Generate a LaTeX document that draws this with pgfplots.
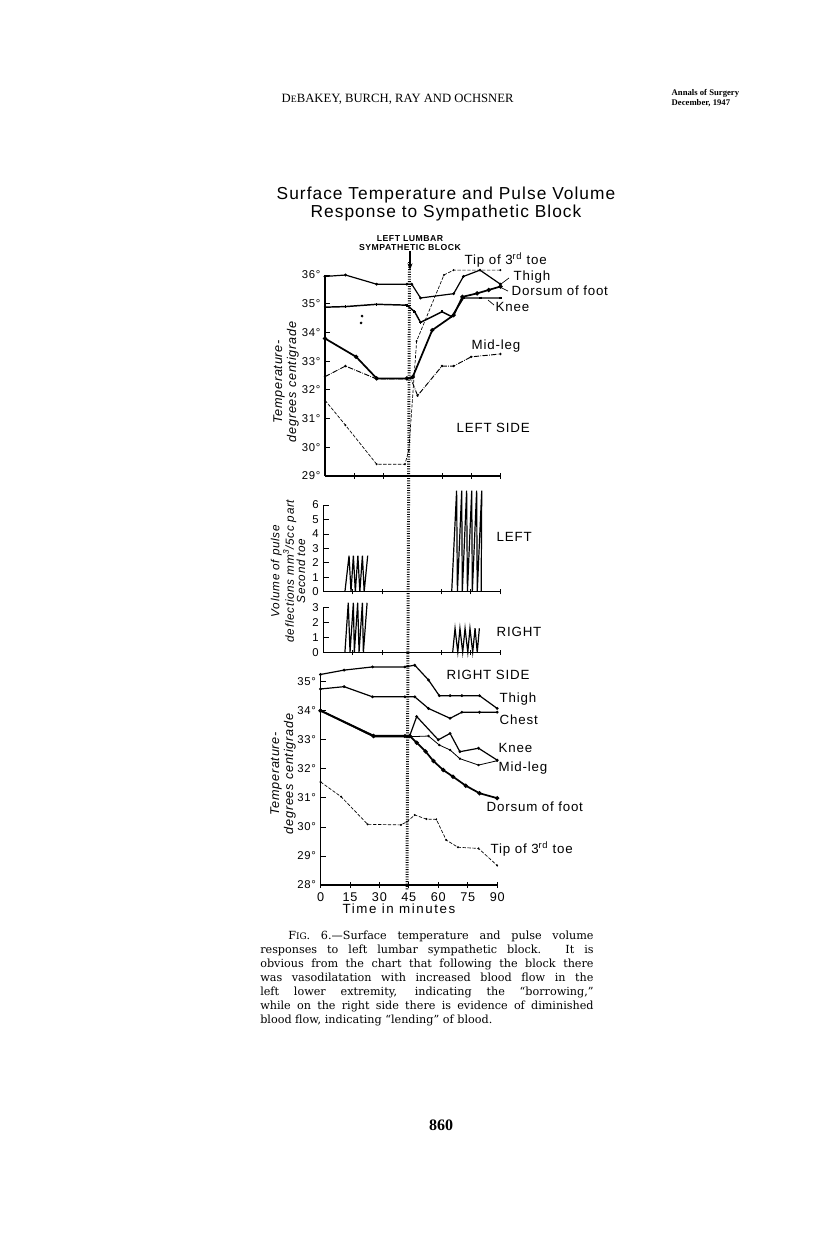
\documentclass[border=0pt]{standalone}
\usepackage{fontspec}
\setmainfont{Liberation Serif}
\newfontfamily\capfont{DejaVu Serif}[Ligatures=TeX]
\newfontfamily\hand{Liberation Sans}[LetterSpace=6]
\newfontfamily\handw{Liberation Sans}[LetterSpace=12]
\usepackage{pgfplots}
\pgfplotsset{compat=1.18}
\usetikzlibrary{arrows.meta}

\pgfplotsset{
  panel/.style={scale only axis, axis lines=left, axis line style={-, line width=0.8pt},
    clip=false, xmin=0, xmax=90, tick style={black, line width=0.6pt},
    major tick length=4pt, tick label style={font=\hand\fontsize{8.5}{9}\selectfont},
    xtick align=center, ytick align=inside},
  thigh/.style={black, line width=0.9pt, mark=*, mark size=0.55pt},
  toe/.style={black, line width=0.5pt, dash pattern=on 2.5pt off 1.2pt, mark=*, mark size=0.5pt},
  knee/.style={black, line width=1.1pt, mark=+, mark size=1.1pt},
  dorsum/.style={black, line width=1.3pt, mark=*, mark size=0.85pt},
  midleg/.style={black, line width=0.7pt, dash pattern=on 4pt off 1pt on 0.5pt off 1pt, mark=*, mark size=0.5pt},
  pulse/.style={black, line width=0.9pt},
}

\begin{document}
\begin{tikzpicture}[x=0.75pt,y=-0.75pt]
\path[use as bounding box, fill=white] (0,0) rectangle (816,1240);

% page header
\node[anchor=base west, font=\fontsize{9.5}{11}\selectfont] at (277,102)
  {D{\fontsize{7.3}{8}\selectfont E}BAKEY, BURCH, RAY AND OCHSNER};
\node[anchor=west, font=\bfseries\fontsize{6.5}{7.5}\selectfont, align=left] at (667,98)
  {Annals of Surgery\\December, 1947};

% chart title
\node[font=\hand\fontsize{13}{13.5}\selectfont, align=center] at (446,204)
  {Surface Temperature and Pulse Volume\\Response to Sympathetic Block};
\node[font=\hand\bfseries\fontsize{6.5}{6.5}\selectfont, align=center] at (410,243)
  {LEFT LUMBAR\\SYMPATHETIC BLOCK};
\draw[-{Stealth[length=5pt]}, line width=0.8pt] (410,251) -- (410,270);

% y labels
\node[rotate=90, font=\hand\itshape\fontsize{9.5}{10.5}\selectfont, align=center] at (286,382)
  {Temperature-\\degrees centigrade};
\node[rotate=90, font=\hand\itshape\fontsize{8.8}{8.4}\selectfont, align=center] at (288,571)
  {Volume of pulse\\deflections mm\textsuperscript{3}/5cc part\\Second toe};
\node[rotate=90, font=\hand\itshape\fontsize{9.5}{10.5}\selectfont, align=center] at (283,774)
  {Temperature-\\degrees centigrade};

% ---- left side temperatures
\begin{axis}[panel, at={(243.75pt,-357pt)}, anchor=south west,
  width=131.6pt, height=150.75pt, ymin=29, ymax=36,
  xtick={15,30,60,75,90}, xticklabels=\empty,
  ytick={29,...,36}, yticklabels={29°,30°,31°,32°,33°,34°,35°,36°}]
\addplot[thigh] coordinates {(0,35.95) (10.5,36.0) (26.5,35.68) (42,35.68) (44.5,35.68) (49,35.2) (66,35.35) (71,35.95) (79.5,36.17) (90,35.68)};
\addplot[toe] coordinates {(0,31.64) (10.5,30.77) (26.5,29.41) (41,29.41) (43,29.9) (47,33.7) (61,36.0) (66,36.17) (90,36.17)};
\addplot[knee] coordinates {(0,34.88) (10.5,34.9) (26.5,34.98) (42,34.95) (46,34.72) (49,34.35) (60,34.72) (65,34.55) (71,35.2) (80,35.2) (90,35.2)};
\addplot[dorsum] coordinates {(0,33.79) (16,33.15) (26.5,32.4) (42,32.4) (45,32.45) (55,34.08) (66,34.6) (70.5,35.24) (78,35.36) (84,35.48) (90,35.6)};
\addplot[midleg] coordinates {(0,32.46) (10.5,32.83) (26.5,32.38) (42,32.38) (44,32.4) (47.5,31.8) (60,32.83) (66,32.83) (75,33.15) (90,33.25)};
\addplot[only marks, mark=*, mark size=0.8pt] coordinates {(19,34.57) (18.5,34.33)};
\end{axis}

% ---- pulse volume, left
\begin{axis}[panel, at={(242.5pt,-443.8pt)}, anchor=south west,
  width=132.5pt, height=65pt, ymin=0, ymax=6,
  xtick={15,30,60,75,90}, xticklabels=\empty,
  ytick={0,...,6}, yticklabels={0,1,2,3,4,5,6}]
\addplot[pulse] coordinates {(11,0) (13.1,2.5) (14.1,0) (15.3,2.5) (16.3,0) (17.6,2.5) (18.6,0) (19.9,2.5) (20.8,0) (22.6,2.5)};
\addplot[pulse] coordinates {(65.4,0) (67.9,7) (68.3,0) (70.5,7) (70.8,0) (73,7) (73.4,0) (75.6,7) (75.9,0) (78.1,7) (78.4,0) (80.7,7) (80.4,0)};
\end{axis}

% ---- pulse volume, right
\begin{axis}[panel, at={(242.5pt,-489.2pt)}, anchor=south west,
  width=132.5pt, height=33.75pt, ymin=0, ymax=3,
  xtick={15,30,60,75,90}, xticklabels=\empty,
  ytick={0,...,3}, yticklabels={0,1,2,3}]
\addplot[pulse] coordinates {(11,0) (12.7,3.3) (13.6,0) (15.3,3.3) (15.8,0) (17.5,3.3) (18.2,0) (19.9,3.3) (20.4,0) (22.3,3.3)};
\addplot[pulse] coordinates {(65.9,0) (67.1,1.6) (68.5,0) (69.6,1.6) (71,0) (72.2,1.6) (73.6,0) (74.7,1.6) (76.1,0) (77.3,1.6) (78.4,0) (79.5,1.6)};
\end{axis}

% ---- right side temperatures
\begin{axis}[panel, at={(240.4pt,-663.75pt)}, anchor=south west,
  width=132.5pt, height=159pt, ymin=28, ymax=35.3,
  xtick={0,15,...,90}, xticklabels={0,15,30,45,60,75,90},
  xticklabel style={font=\hand\fontsize{9.5}{10}\selectfont},
  ytick={28,...,35}, yticklabels={28°,29°,30°,31°,32°,33°,34°,35°}]
\addplot[thigh] coordinates {(0,35.25) (12,35.4) (26.5,35.51) (43,35.51) (48,35.57) (55,35.06) (60.5,34.52) (66,34.52) (72,34.52) (81,34.52) (90,34.08)};
\addplot[thigh] coordinates {(0,34.75) (12,34.83) (26.5,34.48) (43,34.48) (48,34.48) (55,34.08) (66,33.74) (72,33.95) (81,33.95) (90,33.95)};
\addplot[thigh] coordinates {(0,34.02) (27,33.15) (43,33.15) (45.5,33.15) (49,33.8) (60,33.0) (66,33.22) (71,32.59) (80.5,32.71) (90,32.3)};
\addplot[thigh, line width=0.6pt] coordinates {(0,34.0) (27,33.1) (43,33.1) (55,33.13) (60.5,32.82) (66,32.65) (71,32.35) (80.5,32.13) (90,32.28)};
\addplot[dorsum] coordinates {(0,34.0) (27,33.13) (45.5,33.13) (49,32.9) (53.5,32.6) (57.5,32.27) (62.5,31.96) (67.5,31.73) (74,31.42) (81,31.16) (90,30.99)};
\addplot[toe] coordinates {(0,31.55) (10.5,31.04) (24,30.09) (41,30.07) (44,30.18) (48,30.41) (54,30.27) (59,30.26) (64,29.55) (70,29.3) (80.5,29.26) (90,28.67)};
\end{axis}
\node[font=\handw\fontsize{10}{11}\selectfont] at (399,909) {Time in minutes};

% block line
\draw[line width=2.2pt, dash pattern=on 0.7pt off 1.1pt] (409.5,262) -- (407,890);

% curve labels
\begin{scope}[font=\hand\fontsize{10}{11}\selectfont]
\node[anchor=west] at (460,260) {Tip of 3\textsuperscript{rd} toe};
\node[anchor=west] at (509,277) {Thigh};
\draw[line width=0.5pt] (501,284) -- (509,278);
\node[anchor=west] at (507,291) {Dorsum of foot};
\draw[line width=0.5pt] (500,287) -- (508,291);
\node[anchor=west] at (491,307) {Knee};
\draw[line width=0.5pt] (488,300) -- (494,305);
\node[anchor=west] at (467,346) {Mid-leg};
\node[anchor=west] at (452,428) {LEFT SIDE};
\node[anchor=west] at (492,537) {LEFT};
\node[anchor=west] at (492,632) {RIGHT};
\node[anchor=west] at (442,675) {RIGHT SIDE};
\node[anchor=west] at (495,699) {Thigh};
\node[anchor=west] at (495,720) {Chest};
\node[anchor=west] at (494,748) {Knee};
\node[anchor=west] at (494,768) {Mid-leg};
\node[anchor=west] at (482,807) {Dorsum of foot};
\node[anchor=west] at (486,849) {Tip of 3\textsuperscript{rd} toe};
\end{scope}

% caption
\node[anchor=north west, inner sep=0pt, text width=250pt, align=justify,
  font=\capfont\fontsize{8.4}{10.5}\selectfont] at (260,931)
  {\hspace*{21pt}F{\fontsize{6.7}{9}\selectfont IG}. 6.---Surface temperature and pulse volume\linebreak
   responses to left lumbar sympathetic block. It is\linebreak
   obvious from the chart that following the block there\linebreak
   was vasodilatation with increased blood flow in the\linebreak
   left lower extremity, indicating the “borrowing,”\linebreak
   while on the right side there is evidence of diminished\linebreak
   blood flow, indicating “lending” of blood.};

\node[font=\bfseries\fontsize{12}{14}\selectfont] at (441,1125) {860};
\end{tikzpicture}
\end{document}
